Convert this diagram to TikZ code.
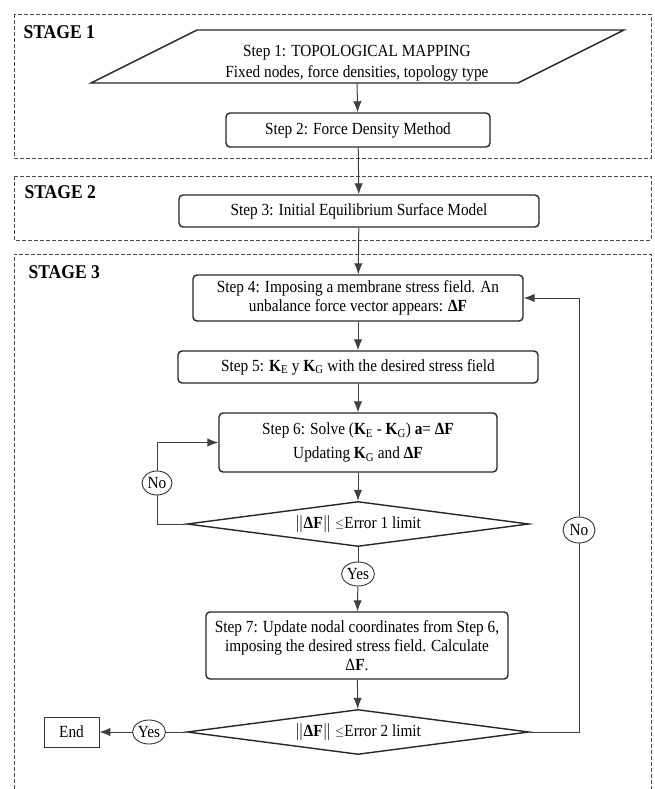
\documentclass[tikz,border=0pt]{standalone}
\usepackage{fontspec}
\setmainfont{Liberation Serif}[FakeStretch=0.9]
\usepackage{tikz}
\usetikzlibrary{shapes.geometric,arrows.meta}

\newcommand{\lesssign}{\raisebox{0.5pt}{$\scriptstyle\leq$}}

\begin{document}
\begin{tikzpicture}[x=1pt,y=-1pt,
  font=\fontsize{17}{19}\selectfont,
  stepbox/.style={draw=black!85,line width=1.4pt,rounded corners=4pt,align=center,inner sep=0pt},
  test/.style={diamond,draw=black!85,line width=1.4pt,aspect=7,inner sep=0pt,minimum width=342pt,minimum height=45pt},
  answer/.style={ellipse,draw=black!80,line width=0.9pt,inner sep=0.5pt,minimum width=30pt,minimum height=24pt},
  stage/.style={draw=black!70,dash pattern=on 4pt off 2pt,line width=0.9pt},
  stagelabel/.style={anchor=west,font=\fontsize{19.5}{22}\selectfont\bfseries},
  flow/.style={draw=black!75,line width=1pt,-{Latex[length=11pt,width=8.5pt]}},
  link/.style={draw=black!75,line width=1pt}]
\useasboundingbox (0,0) rectangle (655,789);

\draw[stage] (14,14) rectangle (651,158);
\draw[stage] (14,176) rectangle (651,240);
\draw[stage] (14,789) -- (14,254) -- (651,254) -- (651,789);
\node[stagelabel] (s1) at (20,32) {STAGE 1};
\node[stagelabel] (s2) at (21,192) {STAGE 2};
\node[stagelabel] (s3) at (25,272) {STAGE 3};

\draw[draw=black!85,line width=1.4pt] (197,30) -- (624,30) -- (518,83) -- (91,83) -- cycle;
\node[align=center] (map) at (357,63) {Step 1: TOPOLOGICAL MAPPING\\[2pt] Fixed nodes, force densities, topology type};
\coordinate (mapout) at (357,83);

\node[stepbox,minimum width=264pt,minimum height=34pt] (fdm) at (358,130) {Step 2: Force Density Method};
\node[stepbox,minimum width=360pt,minimum height=32pt] (init) at (359,211) {Step 3: Initial Equilibrium Surface Model};
\node[stepbox,minimum width=330pt,minimum height=46pt] (impose) at (358,298) {Step 4: Imposing a membrane stress field. An\\ unbalance force vector appears: \textbf{ΔF}};
\node[stepbox,minimum width=360pt,minimum height=32pt] (stiff) at (358,367) {Step 5: \textbf{K}\textsubscript{E} y \textbf{K}\textsubscript{G} with the desired stress field};
\node[stepbox,minimum width=278pt,minimum height=59pt] (solve) at (358,442.5) {Step 6: Solve (\textbf{K}\textsubscript{E} - \textbf{K}\textsubscript{G}) \textbf{a}= \textbf{ΔF}\\[5pt] Updating \textbf{K}\textsubscript{G} and \textbf{ΔF}};
\node[test] (err1) at (358,524) {$\Vert$\textbf{ΔF}$\Vert$ \lesssign Error 1 limit};
\node[answer] (yes1) at (358,574) {Yes};
\node[stepbox,minimum width=302pt,minimum height=67pt] (update) at (357,645.5) {Step 7: Update nodal coordinates from Step 6,\\ imposing the desired stress field. Calculate\\ Δ\textbf{F}.};
\node[test] (err2) at (358,732) {$\Vert$\textbf{ΔF}$\Vert$ \lesssign Error 2 limit};
\node[answer] (yes2) at (149,732) {Yes};
\node[draw=black!80,line width=0.9pt,minimum width=55pt,minimum height=30pt] (end) at (71.5,732) {End};
\node[answer] (no1) at (157,483) {No};
\node[answer,minimum width=32pt,minimum height=26pt] (no2) at (579,530) {No};

\draw[flow] (mapout) -- (fdm);
\draw[flow] (fdm) -- (init);
\draw[flow] (init) -- (impose);
\draw[flow] (impose) -- (stiff);
\draw[flow] (stiff) -- (solve);
\draw[flow] (solve) -- (err1);
\draw[link] (err1) -- (yes1);
\draw[flow] (yes1) -- (update);
\draw[flow] (update) -- (err2);
\draw[link] (err2) -- (yes2);
\draw[flow] (yes2) -- (end);
\draw[link] (err1.west) -| (no1.south);
\draw[flow] (no1.north) |- (solve.west);
\draw[link] (err2.east) -| (no2.south);
\draw[flow] (no2.north) |- (impose.east);
\end{tikzpicture}
\end{document}
